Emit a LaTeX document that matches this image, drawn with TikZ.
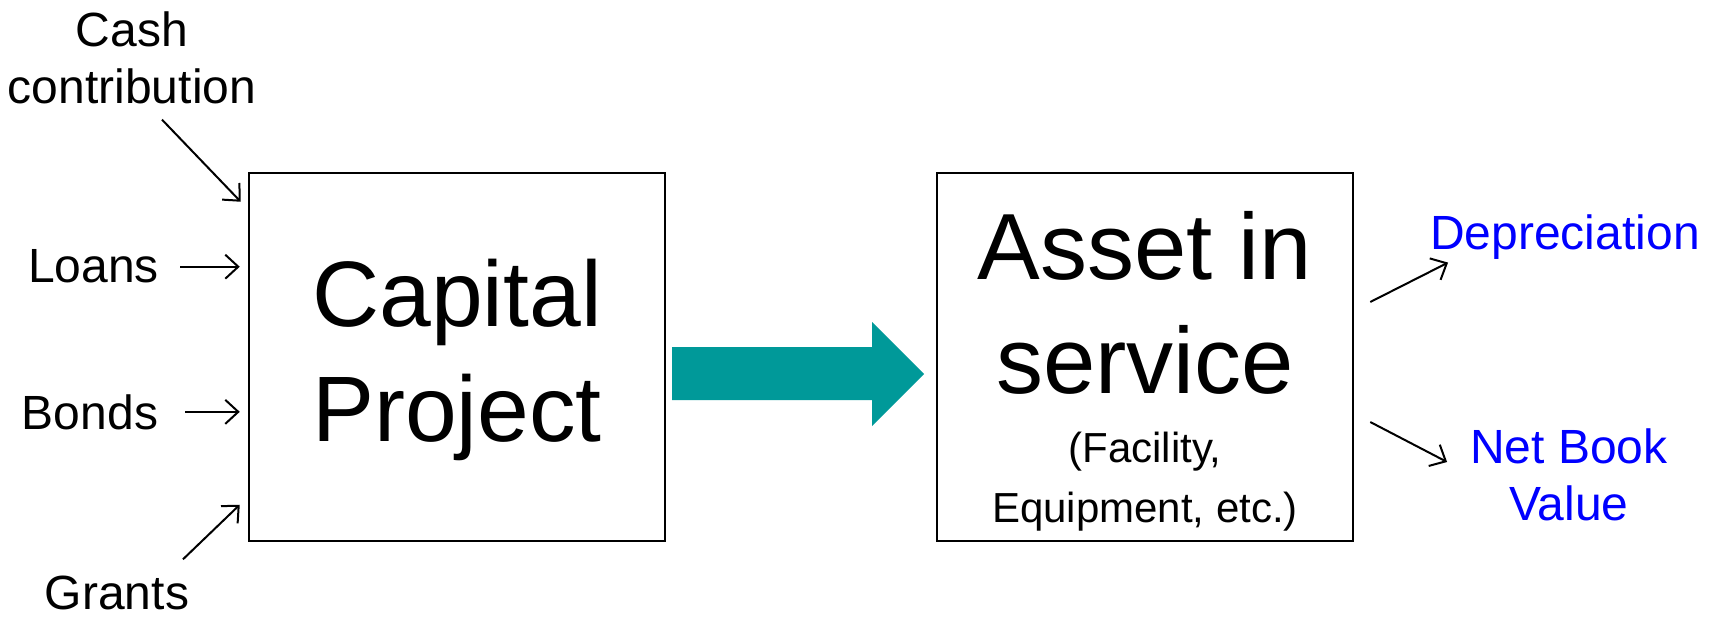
\documentclass[tikz,border=0pt]{standalone}
\usepackage{fontspec}
\setmainfont{Liberation Sans}
\usetikzlibrary{arrows.meta}
\definecolor{teal}{RGB}{0,153,153}
\definecolor{labelblue}{RGB}{0,0,255}
\begin{document}
\begin{tikzpicture}[x=1pt,y=-1pt,
  box/.style={draw=black,line width=2.5pt,fill=white,minimum width=416pt,minimum height=368pt,inner sep=0pt},
  bigtext/.style={inner sep=0pt,align=center,font=\fontsize{93}{115}\selectfont},
  smalltext/.style={inner sep=0pt,align=center,font=\fontsize{42}{60}\selectfont},
  label/.style={inner sep=0pt,align=center,font=\fontsize{48}{57}\selectfont},
  arr/.style={line width=2pt,-{Straight Barb[length=13pt,width=24pt,line width=2pt]}}
]
\useasboundingbox (0,0) rectangle (1715,620);
% boxes
\node[box] (cp) at (457,357) {};
\node[box] (asset) at (1145,357) {};
% box texts
\node[bigtext,anchor=north] (cptext) at (457,259) {Capital\\Project};
\node[bigtext,anchor=north,font=\fontsize{94}{114}\selectfont] (assettext) at (1145,211) {Asset in\\service};
\node[smalltext,anchor=north] (assetsub) at (1145,432) {(Facility,\\Equipment, etc.)};
% teal arrow
\fill[teal] (672,347) -- (872,347) -- (872,322) -- (924,374) -- (872,426) -- (872,400) -- (672,400) -- cycle;
% left labels
\node[label,anchor=north] (cash) at (132,12) {Cash\\contribution};
\node[label,anchor=base] (loans) at (93.5,283) {Loans};
\node[label,anchor=base] (bonds) at (90,429) {Bonds};
\node[label,anchor=base] (grants) at (117,609) {Grants};
% right labels
\node[label,anchor=base,text=labelblue] (dep) at (1565,250) {Depreciation};
\node[label,anchor=north,text=labelblue] (nbv) at (1569,429) {Net Book\\Value};
% input arrows
\draw[arr] ([shift={(30,15)}]cash.south) -- ([shift={(-7,30)}]cp.north west);
\draw[arr] ([xshift=21pt]loans.east) -- ([xshift=-8pt]loans.east -| cp.west);
\draw[arr] ([xshift=27pt]bonds.east) -- ([xshift=-8pt]bonds.east -| cp.west);
\draw[arr] ([shift={(66,-16)}]grants.north) -- ([shift={(-8,333)}]cp.north west);
% output arrows
\draw[arr] ([shift={(16,-55)}]asset.east) -- ([shift={(18,25)}]dep.west);
\draw[arr] ([shift={(16,65)}]asset.east) -- ([shift={(-23,33)}]nbv.north west);
\end{tikzpicture}
\end{document}
